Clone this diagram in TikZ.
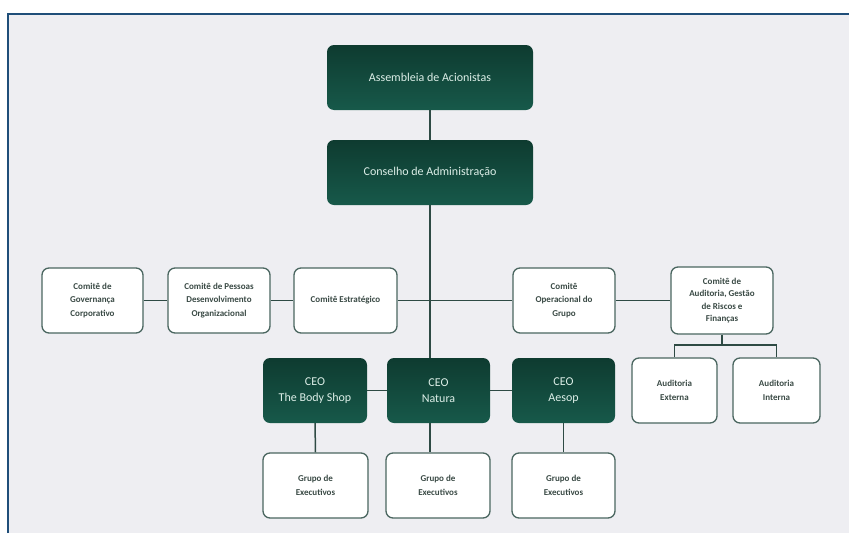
\documentclass[tikz,border=0pt]{standalone}
\usepackage{fontspec}
\setmainfont{Carlito}
\definecolor{bgray}{HTML}{EEEEF2}
\definecolor{frameblue}{HTML}{1F4E79}
\definecolor{dgtop}{HTML}{0E3B30}
\definecolor{dgbot}{HTML}{17594A}
\definecolor{boxline}{HTML}{4A6660}
\definecolor{conline}{HTML}{2E4A44}
\definecolor{ltext}{HTML}{3A4A45}
\definecolor{dtext}{HTML}{DDEFE8}
\tikzset{
  darkbox/.style={rectangle, rounded corners=7pt, top color=dgtop, bottom color=dgbot, draw=none,
    text=dtext, align=center, font=\fontsize{12}{16}\selectfont, inner sep=2pt},
  lightbox/.style={rectangle, rounded corners=7pt, fill=white, draw=boxline, line width=1.3pt,
    text=ltext, align=center, font=\fontsize{9}{13.5}\selectfont\bfseries, inner sep=2pt},
  conn/.style={draw=conline, line width=1.5pt}
}
\begin{document}
\begin{tikzpicture}[x=1pt,y=-1pt]
\useasboundingbox (0,0) rectangle (849,533);
\fill[white] (0,0) rectangle (849,533);
\fill[bgray] (8,14) rectangle (849,533);
\draw[frameblue, line width=2.6pt] (8,533) -- (8,14) -- (849,14);

\node[darkbox, minimum width=206pt, minimum height=65pt] (A) at (430,77.5) {Assembleia de Acionistas};
\node[darkbox, minimum width=206pt, minimum height=65pt] (B) at (430,172.5) {Conselho de Administração};

\node[lightbox, minimum width=101pt, minimum height=65pt] (c1) at (92.5,300.5) {Comitê de\\Governança\\Corporativo};
\node[lightbox, minimum width=102pt, minimum height=65pt] (c2) at (219,300.5) {Comitê de Pessoas\\Desenvolvimento\\Organizacional};
\node[lightbox, minimum width=103pt, minimum height=65pt] (c3) at (345.5,300.5) {Comitê Estratégico};
\node[lightbox, minimum width=102pt, minimum height=65pt] (c4) at (564,300.5) {Comitê\\Operacional do\\Grupo};
\node[lightbox, minimum width=102pt, minimum height=67pt, font=\fontsize{9}{12.5}\selectfont\bfseries] (c5) at (722,300.5) {Comitê de\\Auditoria, Gestão\\de Riscos e\\Finanças};

\node[darkbox, minimum width=104pt, minimum height=65pt] (ceo1) at (315,390.5) {CEO\\The Body Shop};
\node[darkbox, minimum width=103pt, minimum height=65pt] (ceo2) at (438.5,390.5) {CEO\\Natura};
\node[darkbox, minimum width=103pt, minimum height=65pt] (ceo3) at (563.5,390.5) {CEO\\Aesop};

\node[lightbox, minimum width=105pt, minimum height=65pt] (g1) at (315.5,485.5) {Grupo de\\Executivos};
\node[lightbox, minimum width=104pt, minimum height=65pt] (g2) at (438,485.5) {Grupo de\\Executivos};
\node[lightbox, minimum width=103pt, minimum height=65pt] (g3) at (563.5,485.5) {Grupo de\\Executivos};

\node[lightbox, minimum width=85pt, minimum height=65pt] (a1) at (674.5,390.5) {Auditoria\\Externa};
\node[lightbox, minimum width=87pt, minimum height=65pt] (a2) at (776.5,390.5) {Auditoria\\Interna};

\coordinate (br) at (722,345);

\draw[conn] (A.south) -- (B.north);
\draw[conn] (B.south) -- (B.south |- ceo2.north);
\draw[conn] (c1.east) -- (c2.west);
\draw[conn] (c2.east) -- (c3.west);
\draw[conn] (c3.east) -- (c4.west);
\draw[conn] (c4.east) -- (c5.west);
\draw[conn] (ceo1.east) -- (ceo2.west);
\draw[conn] (ceo2.east) -- (ceo3.west);
\draw[conn] (ceo1.south) -- (g1.north);
\draw[conn] (B.south |- ceo2.south) -- (B.south |- g2.north);
\draw[conn] (ceo3.south) -- (g3.north);
\draw[conn] (c5.south) -- (br);
\draw[conn] (a1.north) |- (br) -| (a2.north);
\end{tikzpicture}
\end{document}
